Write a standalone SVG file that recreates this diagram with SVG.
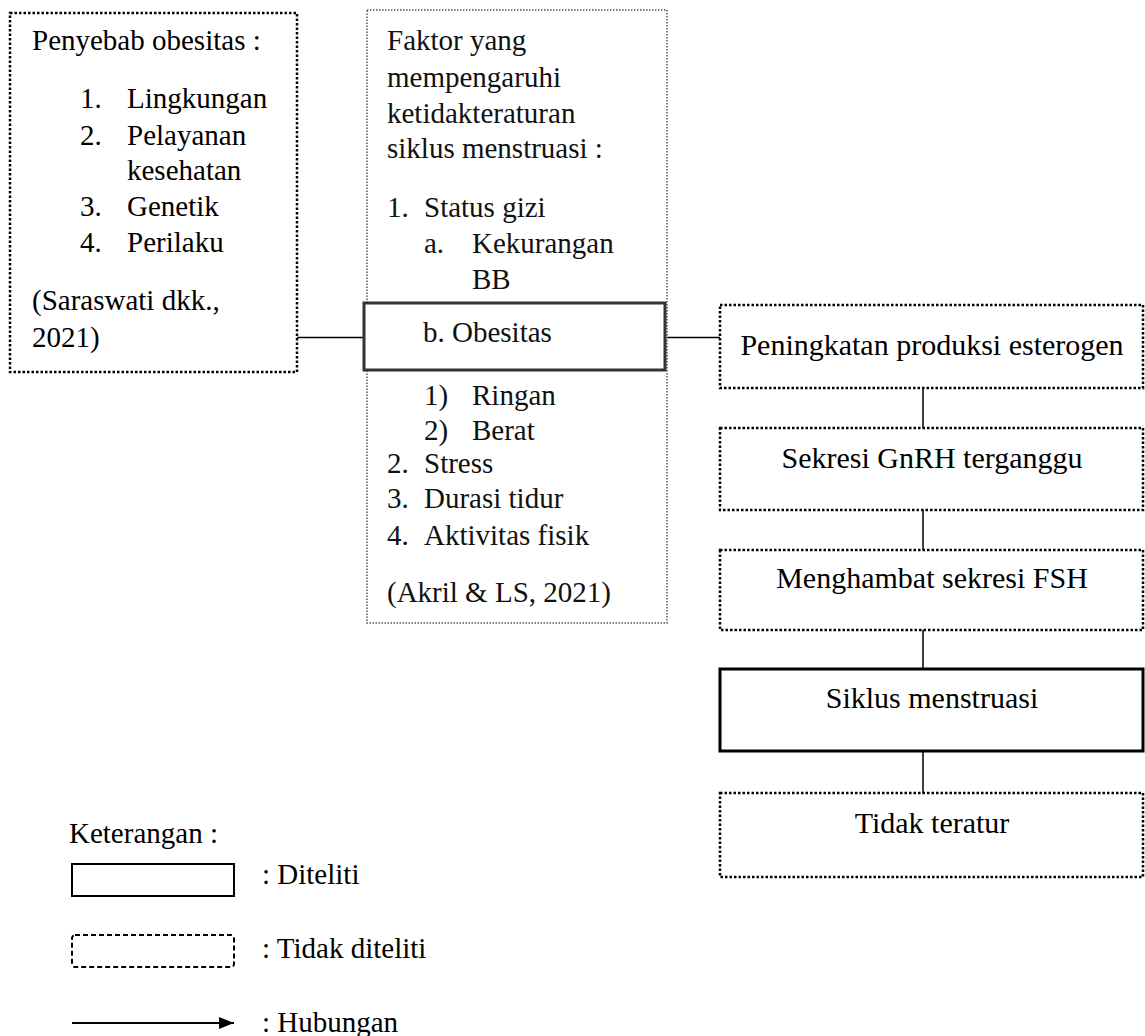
<svg xmlns="http://www.w3.org/2000/svg" width="1145" height="1036" viewBox="0 0 1145 1036">
<style>
text{font-family:Liberation Serif, DejaVu Serif, serif;fill:#000;font-size:29px}
.r{font-size:30px}
.mid{font-size:29px;fill:#111}
.dot{fill:#fff;stroke:#000;stroke-width:2.5;stroke-dasharray:2.5 2}
.fine{fill:#fff;stroke:#555;stroke-width:1.5;stroke-dasharray:1.5 1.5}
.solid{fill:#fff;stroke:#000;stroke-width:3}
.con{stroke:#000;stroke-width:1.5;fill:none}
</style>
<defs>
<marker id="ah" viewBox="0 0 15 12" refX="15" refY="6" markerWidth="15" markerHeight="12" markerUnits="userSpaceOnUse" orient="auto">
<path d="M0,0 L15,6 L0,12 z" fill="#000"/>
</marker>
</defs>
<g id="connectors">
<line class="con" x1="297" y1="337.5" x2="364" y2="337.5"/>
<line class="con" x1="665" y1="337.5" x2="720" y2="337.5"/>
<line class="con" x1="923" y1="388" x2="923" y2="428"/>
<line class="con" x1="923" y1="510" x2="923" y2="550"/>
<line class="con" x1="923" y1="630" x2="923" y2="669"/>
<line class="con" x1="923" y1="751" x2="923" y2="793"/>
</g>
<g id="penyebab">
<rect class="dot" x="10" y="13" width="287" height="359"/>
<text x="32" y="50">Penyebab obesitas :</text>
<text x="80" y="108">1.</text><text x="127" y="108">Lingkungan</text>
<text x="80" y="145">2.</text><text x="127" y="145">Pelayanan</text>
<text x="127" y="180">kesehatan</text>
<text x="80" y="216">3.</text><text x="127" y="216">Genetik</text>
<text x="80" y="252">4.</text><text x="127" y="252">Perilaku</text>
<text x="32" y="310">(Saraswati dkk.,</text>
<text x="32" y="347">2021)</text>
</g>
<g id="faktor">
<rect class="fine" x="367" y="10" width="300" height="613"/>
<text class="mid" x="387" y="50">Faktor yang</text>
<text class="mid" x="387" y="87">mempengaruhi</text>
<text class="mid" x="387" y="123">ketidakteraturan</text>
<text class="mid" x="387" y="158">siklus menstruasi :</text>
<text class="mid" x="387" y="217">1.</text><text class="mid" x="424" y="217">Status gizi</text>
<text class="mid" x="424" y="253">a.</text><text class="mid" x="472" y="253">Kekurangan</text>
<text class="mid" x="472" y="289">BB</text>
<text class="mid" x="424" y="405">1)</text><text class="mid" x="472" y="405">Ringan</text>
<text class="mid" x="424" y="440">2)</text><text class="mid" x="472" y="440">Berat</text>
<text class="mid" x="387" y="473">2.</text><text class="mid" x="424" y="473">Stress</text>
<text class="mid" x="387" y="508">3.</text><text class="mid" x="424" y="508">Durasi tidur</text>
<text class="mid" x="387" y="545">4.</text><text class="mid" x="424" y="545">Aktivitas fisik</text>
<text class="mid" x="387" y="602">(Akril &amp; LS, 2021)</text>
</g>
<g id="obesitas">
<rect x="364" y="303" width="301" height="67" fill="#fff" stroke="#333" stroke-width="3"/>
<text class="mid" x="423" y="342">b. Obesitas</text>
</g>
<g id="peningkatan">
<rect class="dot" x="720" y="305" width="423" height="83"/>
<text class="r" x="932" y="355" text-anchor="middle">Peningkatan produksi esterogen</text>
</g>
<g id="sekresi">
<rect class="dot" x="720" y="428" width="423" height="82"/>
<text class="r" x="932" y="468" text-anchor="middle">Sekresi GnRH terganggu</text>
</g>
<g id="menghambat">
<rect class="dot" x="720" y="550" width="423" height="80"/>
<text class="r" x="932" y="588" text-anchor="middle">Menghambat sekresi FSH</text>
</g>
<g id="siklus">
<rect class="solid" x="720" y="669" width="423" height="82"/>
<text class="r" x="932" y="708" text-anchor="middle">Siklus menstruasi</text>
</g>
<g id="tidak">
<rect class="dot" x="720" y="793" width="423" height="84"/>
<text class="r" x="932" y="833" text-anchor="middle">Tidak teratur</text>
</g>
<g id="legend">
<text x="69" y="843">Keterangan :</text>
<rect x="72" y="864" width="162" height="32" fill="#fff" stroke="#000" stroke-width="2"/>
<text x="262" y="884">: Diteliti</text>
<rect x="72" y="935" width="162" height="32" rx="3" fill="#fff" stroke="#000" stroke-width="2" stroke-dasharray="5 3"/>
<text x="262" y="958">: Tidak diteliti</text>
<line x1="72" y1="1023" x2="234" y2="1023" stroke="#000" stroke-width="2" marker-end="url(#ah)"/>
<text x="262" y="1032">: Hubungan</text>
</g>
</svg>
